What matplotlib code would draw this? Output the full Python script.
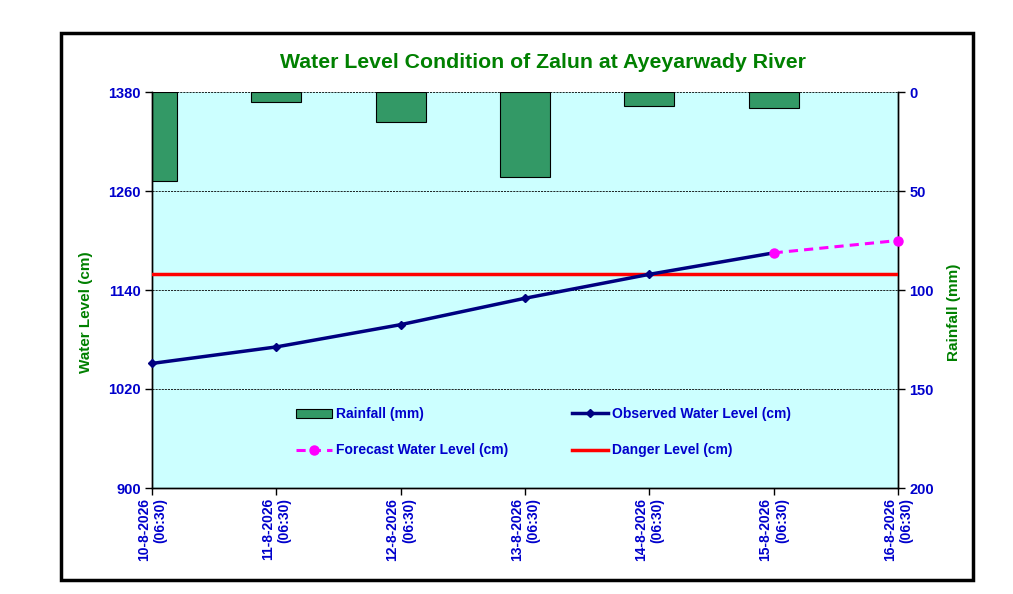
import numpy as np
import matplotlib
matplotlib.use("Agg")
import matplotlib.pyplot as plt
from matplotlib.patches import Rectangle, Patch
from matplotlib.lines import Line2D

plt.rcParams['font.family'] = ['Liberation Sans', 'DejaVu Sans']
plt.rcParams['font.weight'] = 'bold'

# ---- data ----
dates = ['10-8-2026\n(06:30)', '11-8-2026\n(06:30)', '12-8-2026\n(06:30)',
         '13-8-2026\n(06:30)', '14-8-2026\n(06:30)', '15-8-2026\n(06:30)',
         '16-8-2026\n(06:30)']
rainfall = [45, 5, 15, 43, 7, 8, np.nan]
observed = [1051, 1071, 1098, 1130, 1159, 1185, np.nan]
forecast = [np.nan, np.nan, np.nan, np.nan, np.nan, 1185, 1200]
danger = [1160, 1160, 1160, 1160, 1160, 1160, 1160]
wl_ticks = [900, 1020, 1140, 1260, 1380]
rf_ticks = [0, 50, 100, 150, 200]

title = 'Water Level Condition of Zalun at Ayeyarwady River'

BLUE = '#0000CC'
GREEN = '#008000'

fig = plt.figure(figsize=(10.13, 5.94), dpi=100)
fig.patch.set_facecolor('white')

# outer frame
fig.patches.append(Rectangle((61/1013, 1-580/594), (973-61)/1013, (580-33)/594,
                             transform=fig.transFigure, fill=False,
                             edgecolor='black', linewidth=2.5, zorder=0))

ax = fig.add_axes([152/1013, 1-488/594, (898-152)/1013, (488-92)/594])
axr = ax.twinx()
ax.set_zorder(axr.get_zorder() + 1)
ax.patch.set_visible(False)
axr.patch.set_visible(True)
axr.patch.set_facecolor('#CCFFFF')

x = np.arange(len(dates))

# rainfall bars (right axis, inverted)
axr.bar(x, rainfall, width=0.4, color='#339966', edgecolor='black',
        linewidth=0.8)
axr.set_ylim(200, 0)
axr.set_yticks(rf_ticks)

# water level lines
ax.plot(x, danger, color='#FF0000', linewidth=2.5, zorder=3)
ax.plot(x, observed, color='#000080', linewidth=2.5, marker='D',
        markersize=4.5, zorder=5, clip_on=False)
ax.plot(x, forecast, color='#FF00FF', linewidth=2.2, linestyle=(0, (3, 2)),
        marker='o', markersize=6.5, zorder=6, clip_on=False)

ax.set_xlim(0, 6)
ax.set_ylim(900, 1380)
ax.set_yticks(wl_ticks)
ax.set_xticks(x)
ax.set_xticklabels(dates, rotation=90, ha='center', va='top',
                   multialignment='right')
ax.yaxis.grid(True, linestyle=(0, (2.5, 1.2)), color='black', linewidth=0.6)

for a in (ax, axr):
    a.spines['top'].set_visible(False)
    for s in a.spines.values():
        s.set_linewidth(1.0)
ax.tick_params(axis='y', direction='out', length=5, width=1, colors='black',
               labelcolor=BLUE, labelsize=10.5, pad=3)
ax.tick_params(axis='x', direction='out', length=5, width=1, colors='black',
               labelcolor=BLUE, labelsize=10, pad=2)
axr.tick_params(axis='y', direction='out', length=5, width=1, colors='black',
                labelcolor=BLUE, labelsize=10.5, pad=3)
for lbl in ax.get_xticklabels() + ax.get_yticklabels() + axr.get_yticklabels():
    lbl.set_fontweight('bold')

ax.set_ylabel('Water Level (cm)', color=GREEN, fontsize=11, fontweight='bold')
ax.yaxis.set_label_coords(-0.079, 0.444)
axr.set_ylabel('Rainfall (mm)', color=GREEN, fontsize=11, fontweight='bold')
axr.yaxis.set_label_coords(1.066, 0.444)

fig.text(543/1013, 1-62/594, title, color=GREEN, fontsize=15.3,
         fontweight='bold', ha='center', va='center')

handles = [
    Patch(facecolor='#339966', edgecolor='black', linewidth=0.8),
    Line2D([], [], color='#FF00FF', linewidth=2.2, linestyle=(0, (3, 2)),
           marker='o', markersize=6.5),
    Line2D([], [], color='#000080', linewidth=2.5, marker='D', markersize=4.5),
    Line2D([], [], color='#FF0000', linewidth=2.5),
]
labels = ['Rainfall (mm)', 'Forecast Water Level (cm)',
          'Observed Water Level (cm)', 'Danger Level (cm)']
leg = ax.legend(handles, labels, ncol=2, frameon=False,
                loc='upper left',
                bbox_to_anchor=(296/1013, 1-407/594),
                bbox_transform=fig.transFigure,
                fontsize=10, handlelength=2.6, handletextpad=0.3,
                columnspacing=4.55, labelspacing=1.6, borderpad=0,
                borderaxespad=0, handleheight=0.6)
for t in leg.get_texts():
    t.set_color(BLUE)
    t.set_fontweight('bold')

fig.savefig('out.png', dpi=100, facecolor='white')
